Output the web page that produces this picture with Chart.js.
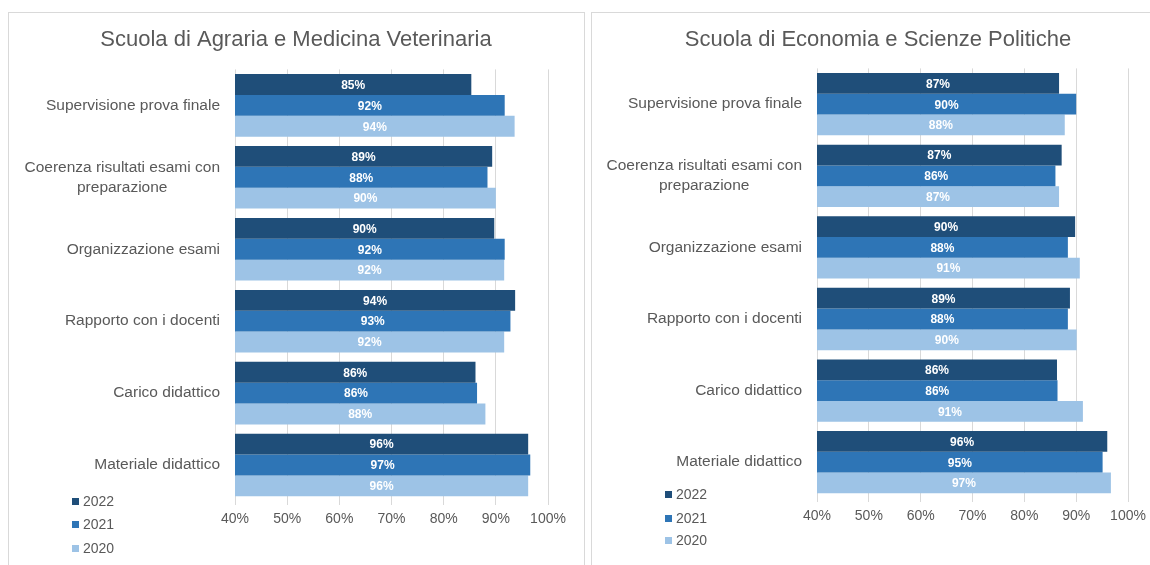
<!DOCTYPE html>
<html>
<head>
<meta charset="utf-8">
<script src="https://cdn.jsdelivr.net/npm/chart.js@4/dist/chart.umd.min.js"></script>
<style>
  body { margin: 0; width: 1150px; height: 565px; overflow: hidden; background: #fff;
         font-family: 'Liberation Sans', Arial, sans-serif; }
  .pannello { position: absolute; top: 12px; height: 600px; border: 1px solid #D9D9D9; box-sizing: border-box; }
  canvas { position: absolute; top: 13px; }
  .voce { position: absolute; font-size: 14px; color: #595959; line-height: 16px; }
  .voce span { display: inline-block; width: 7px; height: 7px; margin-right: 4px; vertical-align: 1px; }
</style>
</head>
<body>
<div class="pannello" style="left:8px; width:577px;"></div>
<div class="pannello" style="left:591px; width:600px;"></div>
<canvas id="agraria" width="574" height="560" style="left:9px;"></canvas>
<canvas id="economia" width="572" height="560" style="left:592px;"></canvas>
<div id="legende"></div>

<script>
// categorie e serie
const categorie = [
  'Supervisione prova finale',
  ['Coerenza risultati esami con', 'preparazione'],
  'Organizzazione esami',
  'Rapporto con i docenti',
  'Carico didattico',
  'Materiale didattico'
];
const anni = ['2022', '2021', '2020'];
const colori = ['#1F4E79', '#2E75B6', '#9DC3E6'];
const tickMin = 40;
const tickMax = 100;
const tickPasso = 10;

// Scuola di Agraria e Medicina Veterinaria
const agraria2022 = [85.3, 89.3, 89.7, 93.7, 86.1, 96.2];
const agraria2021 = [91.7, 88.4, 91.7, 92.8, 86.4, 96.6];
const agraria2020 = [93.6, 90.0, 91.6, 91.6, 88.0, 96.2];

// Scuola di Economia e Scienze Politiche
const economia2022 = [86.7, 87.2, 89.8, 88.8, 86.3, 96.0];
const economia2021 = [90.0, 86.0, 88.4, 88.4, 86.4, 95.1];
const economia2020 = [87.8, 86.7, 90.7, 90.1, 91.3, 96.7];

const font = "'Liberation Sans', Arial, sans-serif";
Chart.defaults.font.family = font;
Chart.defaults.color = '#595959';

// percentuali bianche al centro della parte visibile delle barre
const etichetteBarre = {
  id: 'etichetteBarre',
  afterDatasetsDraw(chart) {
    const ctx = chart.ctx;
    const sinistra = chart.chartArea.left;
    ctx.save();
    ctx.font = 'bold 12px ' + font;
    ctx.fillStyle = '#FFFFFF';
    ctx.textAlign = 'center';
    ctx.textBaseline = 'middle';
    chart.data.datasets.forEach((ds, i) => {
      chart.getDatasetMeta(i).data.forEach((bar, j) => {
        const inizio = Math.max(bar.base, sinistra);
        ctx.fillText(Math.round(ds.data[j]) + '%', (bar.x + inizio) / 2, bar.y + 1);
      });
    });
    ctx.restore();
  }
};

// etichette asse y: allineate a destra, righe multiple centrate tra loro
const etichetteCategorie = {
  id: 'etichetteCategorie',
  afterDraw(chart) {
    const scala = chart.scales.y;
    const ctx = chart.ctx;
    ctx.save();
    ctx.font = '15.5px ' + font;
    ctx.fillStyle = '#595959';
    ctx.textAlign = 'center';
    ctx.textBaseline = 'middle';
    const destra = chart.chartArea.left - 15;
    categorie.forEach((c, i) => {
      const righe = Array.isArray(c) ? c : [c];
      const larghezza = Math.max(...righe.map(r => ctx.measureText(r).width));
      const y = scala.getPixelForTick(i);
      righe.forEach((r, k) => {
        ctx.fillText(r, destra - larghezza / 2, y + (k - (righe.length - 1) / 2) * 20);
      });
    });
    ctx.restore();
  }
};

function creaGrafico(id, titolo, serie, larghezzaY, margineDestro, pad, titoloPad) {
  return new Chart(document.getElementById(id), {
    type: 'bar',
    data: {
      labels: categorie,
      datasets: anni.map((a, i) => ({
        label: a,
        data: serie[i],
        backgroundColor: colori[i],
        borderWidth: 0,
        categoryPercentage: 0.87,
        barPercentage: 1.0
      }))
    },
    options: {
      indexAxis: 'y',
      responsive: false,
      animation: false,
      layout: { padding: pad },
      scales: {
        x: {
          min: tickMin,
          max: tickMax,
          grid: { color: '#D9D9D9', tickColor: '#D9D9D9', tickLength: 4 },
          border: { display: false },
          ticks: {
            stepSize: tickPasso,
            padding: 6,
            font: { size: 14 },
            color: '#595959',
            callback: v => v + '%'
          },
          afterFit: s => { s.height = 27; }
        },
        y: {
          grid: { display: false },
          border: { display: false },
          ticks: { display: false },
          afterFit: s => { s.width = larghezzaY; }
        },
        // asse vuoto a destra: lascia spazio senza spostare il titolo
        margine: {
          type: 'category',
          position: 'right',
          grid: { display: false },
          border: { display: false },
          ticks: { display: false },
          afterFit: s => { s.width = margineDestro; }
        }
      },
      plugins: {
        legend: { display: false },
        tooltip: { enabled: false },
        title: {
          display: true,
          text: titolo,
          color: '#595959',
          font: { size: 22, weight: 'normal' },
          padding: titoloPad
        }
      }
    },
    plugins: [etichetteBarre, etichetteCategorie]
  });
}

creaGrafico('agraria', 'Scuola di Agraria e Medicina Veterinaria',
  [agraria2022, agraria2021, agraria2020], 226, 35,
  { left: 0, right: 0, top: 0, bottom: 45 }, { top: 14, bottom: 16 });

creaGrafico('economia', 'Scuola di Economia e Scienze Politiche',
  [economia2022, economia2021, economia2020], 225, 36,
  { left: 0, right: 0, top: 0, bottom: 48 }, { top: 14, bottom: 15 });

// legende verticali in basso a sinistra
function creaLegenda(x, ys) {
  const box = document.getElementById('legende');
  anni.forEach((a, i) => {
    const d = document.createElement('div');
    d.className = 'voce';
    d.style.left = x + 'px';
    d.style.top = (ys[i] - 8) + 'px';
    d.innerHTML = '<span style="background:' + colori[i] + '"></span>' + a;
    box.appendChild(d);
  });
}
creaLegenda(72, [501, 524, 548]);
creaLegenda(665, [494, 518, 540]);
</script>
</body>
</html>
